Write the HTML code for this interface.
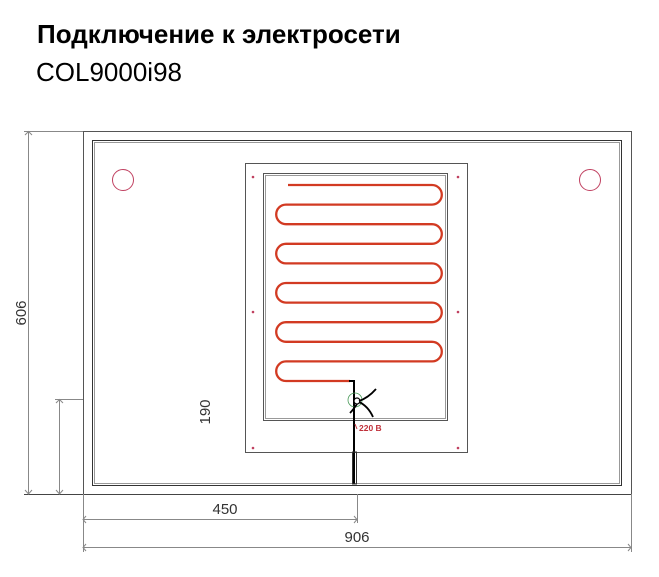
<!DOCTYPE html>
<html><head><meta charset="utf-8"><style>
html,body{margin:0;padding:0;background:#fff;width:659px;height:577px;overflow:hidden}
</style></head><body>
<svg width="659" height="577" xmlns="http://www.w3.org/2000/svg" font-family="Liberation Sans, sans-serif">
<text x="37" y="43" font-size="26" font-weight="bold" fill="#000">Подключение к электросети</text>
<text x="36" y="81" font-size="26" fill="#000">COL9000i98</text>
<g fill="none" stroke="#555" stroke-width="1">
<rect x="83.5" y="131.5" width="548" height="363"/>
<rect x="92.5" y="140.5" width="529" height="345" stroke="#333"/>
<rect x="94.5" y="142.5" width="525" height="341" stroke="#999"/>
<rect x="245.5" y="163.5" width="222" height="289"/>
<rect x="263.5" y="173.5" width="184" height="247"/>
<rect x="265.5" y="175.5" width="180" height="243" stroke="#999"/>
<line x1="28.5" y1="131" x2="28.5" y2="494" stroke="#888"/>
<line x1="24" y1="131.5" x2="83" y2="131.5" stroke="#888"/>
<line x1="24" y1="494.5" x2="631" y2="494.5" stroke="#444"/>
<line x1="59.5" y1="399" x2="59.5" y2="494" stroke="#888"/>
<line x1="55" y1="399.5" x2="83" y2="399.5" stroke="#888"/>
<line x1="83.5" y1="494" x2="83.5" y2="552" stroke="#888"/>
<line x1="631.5" y1="494" x2="631.5" y2="552" stroke="#888"/>
<line x1="357.5" y1="494" x2="357.5" y2="523" stroke="#888"/>
<line x1="83" y1="519.5" x2="357" y2="519.5" stroke="#888"/>
<line x1="83" y1="547.5" x2="631" y2="547.5" stroke="#888"/>
<path d="M86 516 L83 519.5 L86 523 M354 516 L357 519.5 L354 523 M86 544 L83 547.5 L86 551 M628 544 L631 547.5 L628 551 M25 135 L28.5 131.5 L32 135 M25 490 L28.5 494 L32 490 M56 403 L59.5 399.5 L63 403 M56 490 L59.5 494 L63 490" stroke="#888"/>
</g>
<circle cx="123" cy="180" r="10.5" fill="none" stroke="#c04060" stroke-width="1"/>
<circle cx="590" cy="180" r="10.5" fill="none" stroke="#c04060" stroke-width="1"/>
<g fill="#c04060"><circle cx="253" cy="177" r="1.3"/><circle cx="458" cy="177" r="1.3"/><circle cx="253" cy="312" r="1.3"/><circle cx="458" cy="312" r="1.3"/><circle cx="253" cy="448" r="1.3"/><circle cx="458" cy="448" r="1.3"/></g>
<path d="M288 185 H432 A9.8 9.8 0 0 1 432 204.6 H286 A9.8 9.8 0 0 0 286 224.2 H432 A9.8 9.8 0 0 1 432 243.8 H286 A9.8 9.8 0 0 0 286 263.4 H432 A9.8 9.8 0 0 1 432 283 H286 A9.8 9.8 0 0 0 286 302.6 H432 A9.8 9.8 0 0 1 432 322.2 H286 A9.8 9.8 0 0 0 286 341.8 H432 A9.8 9.8 0 0 1 432 361.4 H286 A9.8 9.8 0 0 0 286 381 H350" fill="none" stroke="#d23a22" stroke-width="2.3"/>
<path d="M349 381 H354 V484" fill="none" stroke="#000" stroke-width="2"/>
<rect x="352.5" y="452" width="4" height="32" fill="none" stroke="#333"/>
<circle cx="355" cy="400" r="7" fill="none" stroke="#4a9a5a" stroke-width="0.8"/>
<circle cx="357" cy="401" r="3" fill="#fff" stroke="#000" stroke-width="1.2"/>
<path d="M359 401 Q368 398 376 389 M359 402 Q368 406 373 417 M357 404 Q353 410 350 413" fill="none" stroke="#000" stroke-width="1.8"/>
<text x="359" y="431" font-size="8.5" font-weight="bold" fill="#c0303a">220 B</text>
<path d="M355 424 l2 5" stroke="#c0303a" stroke-width="1"/>
<text transform="translate(26,313) rotate(-90)" text-anchor="middle" font-size="15" fill="#333">606</text>
<text transform="translate(210,412) rotate(-90)" text-anchor="middle" font-size="15" fill="#333">190</text>
<text x="225" y="514" text-anchor="middle" font-size="15" fill="#333">450</text>
<text x="357" y="542" text-anchor="middle" font-size="15" fill="#333">906</text>
</svg>
</body></html>
